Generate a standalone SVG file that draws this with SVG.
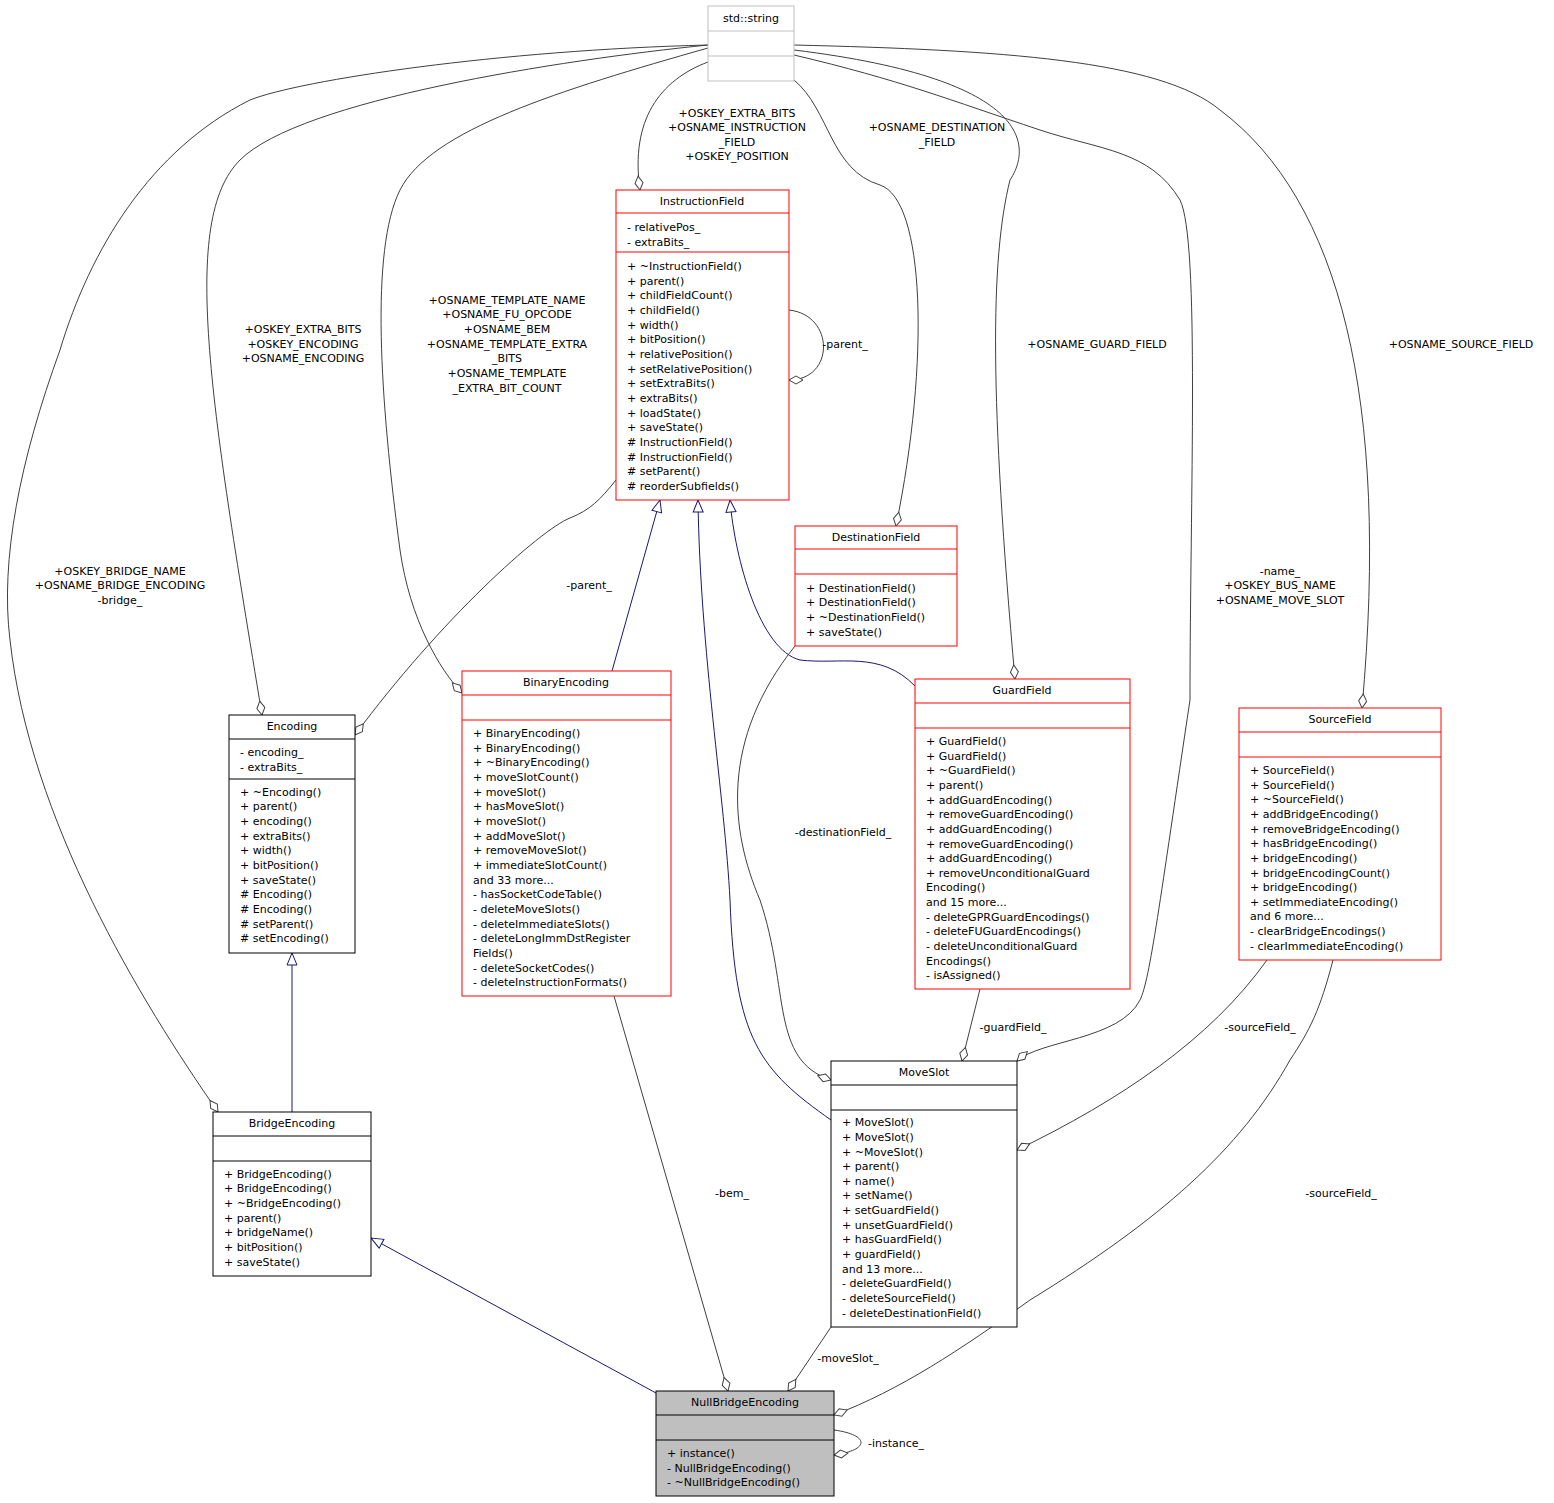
<svg xmlns="http://www.w3.org/2000/svg" width="1554" height="1503" viewBox="0 0 1554 1503">
<style>
text{font-family:"DejaVu Sans","Liberation Sans",sans-serif;font-size:11px;fill:#000}
.c{text-anchor:middle}
.box{fill:#fff;stroke:#f00;stroke-width:1}
.bk{fill:#fff;stroke:#000;stroke-width:1}
.gr{fill:#fff;stroke:#bfbfbf;stroke-width:1}
.e{fill:none;stroke:#404040;stroke-width:1;marker-end:url(#dia)}
.i{fill:none;stroke:#191970;stroke-width:1;marker-end:url(#tri)}
</style>
<defs>
<marker id="dia" viewBox="0 -5 16 10" refX="15" refY="0" markerWidth="16" markerHeight="10" markerUnits="userSpaceOnUse" orient="auto"><path d="M1,0 L8,-4 L15,0 L8,4 z" fill="#fff" stroke="#404040"/></marker>
<marker id="tri" viewBox="0 -6 14 12" refX="13" refY="0" markerWidth="14" markerHeight="12" markerUnits="userSpaceOnUse" orient="auto"><path d="M1,-5 L13,0 L1,5 z" fill="#fff" stroke="#191970"/></marker>
</defs>
<rect width="1554" height="1503" fill="#fff"/>
<g id="connectors">
<path class="e" d="M708,62 C660,80 630,120 640,190"/>
<path class="e" d="M794,80 C830,110 830,170 880,185 C925,200 930,360 896,526"/>
<path class="e" d="M794,50 C1040,80 1030,150 1010,180 C990,260 990,400 1015,679"/>
<path class="e" d="M794,45 C1000,50 1160,60 1220,110 C1340,200 1390,400 1362,708"/>
<path class="e" d="M794,55 C900,80 950,100 1040,130 C1100,150 1150,150 1180,200 C1200,240 1190,500 1190,700 C1160,900 1150,980 1140,1000 C1120,1040 1040,1040 1017,1061"/>
<path class="e" d="M708,45 C560,60 300,100 240,160 C180,220 210,400 262,715"/>
<path class="e" d="M708,48 C560,90 430,130 400,190 C370,250 380,400 400,550 C410,620 440,670 462,693"/>
<path class="e" d="M708,45 C500,50 300,80 250,100 C150,150 90,250 60,350 C20,460 0,560 10,640 C30,820 140,1000 218,1112"/>
<path class="e" d="M789,310 C835,315 835,380 789,380"/>
<path class="e" d="M616,480 C600,500 590,510 570,518 C540,530 440,620 355,735"/>
<path class="i" d="M612,671 L660,500"/>
<path class="i" d="M831,1120 C760,1070 735,1040 730,900 C725,800 700,650 698,500"/>
<path class="i" d="M915,686 C880,650 840,665 800,660 C760,650 735,560 730,500"/>
<path class="i" d="M292,1112 L292,953"/>
<path class="i" d="M656,1393 L371,1238"/>
<path class="e" d="M795,646 C720,740 730,830 760,900 C790,990 770,1060 831,1080"/>
<path class="e" d="M980,989 L962,1061"/>
<path class="e" d="M1267,960 C1210,1040 1120,1100 1017,1150"/>
<path class="e" d="M1333,960 C1320,1010 1310,1030 1290,1060 C1240,1150 1160,1220 1030,1300 C960,1350 900,1390 834,1415"/>
<path class="e" d="M614,996 L728,1391"/>
<path class="e" d="M831,1327 L788,1391"/>
<path class="e" d="M834,1430 C870,1435 870,1450 834,1455"/>
<text class="c" x="737" y="117">+OSKEY_EXTRA_BITS</text>
<text class="c" x="737" y="131">+OSNAME_INSTRUCTION</text>
<text class="c" x="737" y="146">_FIELD</text>
<text class="c" x="737" y="160">+OSKEY_POSITION</text>
<text class="c" x="937" y="131">+OSNAME_DESTINATION</text>
<text class="c" x="937" y="146">_FIELD</text>
<text class="c" x="1097" y="348">+OSNAME_GUARD_FIELD</text>
<text class="c" x="1461" y="348">+OSNAME_SOURCE_FIELD</text>
<text class="c" x="1280" y="575">-name_</text>
<text class="c" x="1280" y="589">+OSKEY_BUS_NAME</text>
<text class="c" x="1280" y="604">+OSNAME_MOVE_SLOT</text>
<text class="c" x="303" y="333">+OSKEY_EXTRA_BITS</text>
<text class="c" x="303" y="348">+OSKEY_ENCODING</text>
<text class="c" x="303" y="362">+OSNAME_ENCODING</text>
<text class="c" x="507" y="304">+OSNAME_TEMPLATE_NAME</text>
<text class="c" x="507" y="318">+OSNAME_FU_OPCODE</text>
<text class="c" x="507" y="333">+OSNAME_BEM</text>
<text class="c" x="507" y="348">+OSNAME_TEMPLATE_EXTRA</text>
<text class="c" x="507" y="362">_BITS</text>
<text class="c" x="507" y="377">+OSNAME_TEMPLATE</text>
<text class="c" x="507" y="392">_EXTRA_BIT_COUNT</text>
<text class="c" x="120" y="575">+OSKEY_BRIDGE_NAME</text>
<text class="c" x="120" y="589">+OSNAME_BRIDGE_ENCODING</text>
<text class="c" x="120" y="604">-bridge_</text>
<text class="c" x="845" y="348">-parent_</text>
<text class="c" x="589" y="589">-parent_</text>
<text class="c" x="843" y="836">-destinationField_</text>
<text class="c" x="1013" y="1031">-guardField_</text>
<text class="c" x="1260" y="1031">-sourceField_</text>
<text class="c" x="1341" y="1197">-sourceField_</text>
<text class="c" x="732" y="1197">-bem_</text>
<text class="c" x="848" y="1362">-moveSlot_</text>
<text class="c" x="896" y="1447">-instance_</text>
</g>
<g id="std_string">
<rect class="gr" x="708" y="6" width="86" height="75"/>
<line x1="708" y1="31" x2="794" y2="31" stroke="#bfbfbf"/>
<line x1="708" y1="56" x2="794" y2="56" stroke="#bfbfbf"/>
<text class="c" x="751" y="22">std::string</text>
</g>
<g id="InstructionField">
<rect class="box" x="616" y="190" width="173" height="310"/>
<line x1="616" y1="213" x2="789" y2="213" stroke="#f00"/>
<line x1="616" y1="252" x2="789" y2="252" stroke="#f00"/>
<text class="c" x="702" y="205">InstructionField</text>
<text x="627" y="231">- relativePos_</text>
<text x="627" y="246">- extraBits_</text>
<text x="627" y="270">+ ~InstructionField()</text>
<text x="627" y="285">+ parent()</text>
<text x="627" y="299">+ childFieldCount()</text>
<text x="627" y="314">+ childField()</text>
<text x="627" y="329">+ width()</text>
<text x="627" y="343">+ bitPosition()</text>
<text x="627" y="358">+ relativePosition()</text>
<text x="627" y="373">+ setRelativePosition()</text>
<text x="627" y="387">+ setExtraBits()</text>
<text x="627" y="402">+ extraBits()</text>
<text x="627" y="417">+ loadState()</text>
<text x="627" y="431">+ saveState()</text>
<text x="627" y="446"># InstructionField()</text>
<text x="627" y="461"># InstructionField()</text>
<text x="627" y="475"># setParent()</text>
<text x="627" y="490"># reorderSubfields()</text>
</g>
<g id="DestinationField">
<rect class="box" x="795" y="526" width="162" height="120"/>
<line x1="795" y1="549" x2="957" y2="549" stroke="#f00"/>
<line x1="795" y1="574" x2="957" y2="574" stroke="#f00"/>
<text class="c" x="876" y="541">DestinationField</text>
<text x="806" y="592">+ DestinationField()</text>
<text x="806" y="606">+ DestinationField()</text>
<text x="806" y="621">+ ~DestinationField()</text>
<text x="806" y="636">+ saveState()</text>
</g>
<g id="Encoding">
<rect class="bk" x="229" y="715" width="126" height="238"/>
<line x1="229" y1="739" x2="355" y2="739" stroke="#000"/>
<line x1="229" y1="779" x2="355" y2="779" stroke="#000"/>
<text class="c" x="292" y="730">Encoding</text>
<text x="240" y="756">- encoding_</text>
<text x="240" y="771">- extraBits_</text>
<text x="240" y="796">+ ~Encoding()</text>
<text x="240" y="810">+ parent()</text>
<text x="240" y="825">+ encoding()</text>
<text x="240" y="840">+ extraBits()</text>
<text x="240" y="854">+ width()</text>
<text x="240" y="869">+ bitPosition()</text>
<text x="240" y="884">+ saveState()</text>
<text x="240" y="898"># Encoding()</text>
<text x="240" y="913"># Encoding()</text>
<text x="240" y="928"># setParent()</text>
<text x="240" y="942"># setEncoding()</text>
</g>
<g id="BinaryEncoding">
<rect class="box" x="462" y="671" width="209" height="325"/>
<line x1="462" y1="695" x2="671" y2="695" stroke="#f00"/>
<line x1="462" y1="720" x2="671" y2="720" stroke="#f00"/>
<text class="c" x="566" y="686">BinaryEncoding</text>
<text x="473" y="737">+ BinaryEncoding()</text>
<text x="473" y="752">+ BinaryEncoding()</text>
<text x="473" y="766">+ ~BinaryEncoding()</text>
<text x="473" y="781">+ moveSlotCount()</text>
<text x="473" y="796">+ moveSlot()</text>
<text x="473" y="810">+ hasMoveSlot()</text>
<text x="473" y="825">+ moveSlot()</text>
<text x="473" y="840">+ addMoveSlot()</text>
<text x="473" y="854">+ removeMoveSlot()</text>
<text x="473" y="869">+ immediateSlotCount()</text>
<text x="473" y="884">and 33 more...</text>
<text x="473" y="898">- hasSocketCodeTable()</text>
<text x="473" y="913">- deleteMoveSlots()</text>
<text x="473" y="928">- deleteImmediateSlots()</text>
<text x="473" y="942">- deleteLongImmDstRegister</text>
<text x="473" y="957">Fields()</text>
<text x="473" y="972">- deleteSocketCodes()</text>
<text x="473" y="986">- deleteInstructionFormats()</text>
</g>
<g id="GuardField">
<rect class="box" x="915" y="679" width="215" height="310"/>
<line x1="915" y1="703" x2="1130" y2="703" stroke="#f00"/>
<line x1="915" y1="728" x2="1130" y2="728" stroke="#f00"/>
<text class="c" x="1022" y="694">GuardField</text>
<text x="926" y="745">+ GuardField()</text>
<text x="926" y="760">+ GuardField()</text>
<text x="926" y="774">+ ~GuardField()</text>
<text x="926" y="789">+ parent()</text>
<text x="926" y="804">+ addGuardEncoding()</text>
<text x="926" y="818">+ removeGuardEncoding()</text>
<text x="926" y="833">+ addGuardEncoding()</text>
<text x="926" y="848">+ removeGuardEncoding()</text>
<text x="926" y="862">+ addGuardEncoding()</text>
<text x="926" y="877">+ removeUnconditionalGuard</text>
<text x="926" y="891">Encoding()</text>
<text x="926" y="906">and 15 more...</text>
<text x="926" y="921">- deleteGPRGuardEncodings()</text>
<text x="926" y="935">- deleteFUGuardEncodings()</text>
<text x="926" y="950">- deleteUnconditionalGuard</text>
<text x="926" y="965">Encodings()</text>
<text x="926" y="979">- isAssigned()</text>
</g>
<g id="SourceField">
<rect class="box" x="1239" y="708" width="202" height="252"/>
<line x1="1239" y1="732" x2="1441" y2="732" stroke="#f00"/>
<line x1="1239" y1="757" x2="1441" y2="757" stroke="#f00"/>
<text class="c" x="1340" y="723">SourceField</text>
<text x="1250" y="774">+ SourceField()</text>
<text x="1250" y="789">+ SourceField()</text>
<text x="1250" y="803">+ ~SourceField()</text>
<text x="1250" y="818">+ addBridgeEncoding()</text>
<text x="1250" y="833">+ removeBridgeEncoding()</text>
<text x="1250" y="847">+ hasBridgeEncoding()</text>
<text x="1250" y="862">+ bridgeEncoding()</text>
<text x="1250" y="877">+ bridgeEncodingCount()</text>
<text x="1250" y="891">+ bridgeEncoding()</text>
<text x="1250" y="906">+ setImmediateEncoding()</text>
<text x="1250" y="920">and 6 more...</text>
<text x="1250" y="935">- clearBridgeEncodings()</text>
<text x="1250" y="950">- clearImmediateEncoding()</text>
</g>
<g id="MoveSlot">
<rect class="bk" x="831" y="1061" width="186" height="266"/>
<line x1="831" y1="1085" x2="1017" y2="1085" stroke="#000"/>
<line x1="831" y1="1110" x2="1017" y2="1110" stroke="#000"/>
<text class="c" x="924" y="1076">MoveSlot</text>
<text x="842" y="1126">+ MoveSlot()</text>
<text x="842" y="1141">+ MoveSlot()</text>
<text x="842" y="1156">+ ~MoveSlot()</text>
<text x="842" y="1170">+ parent()</text>
<text x="842" y="1185">+ name()</text>
<text x="842" y="1199">+ setName()</text>
<text x="842" y="1214">+ setGuardField()</text>
<text x="842" y="1229">+ unsetGuardField()</text>
<text x="842" y="1243">+ hasGuardField()</text>
<text x="842" y="1258">+ guardField()</text>
<text x="842" y="1273">and 13 more...</text>
<text x="842" y="1287">- deleteGuardField()</text>
<text x="842" y="1302">- deleteSourceField()</text>
<text x="842" y="1317">- deleteDestinationField()</text>
</g>
<g id="BridgeEncoding">
<rect class="bk" x="213" y="1112" width="158" height="164"/>
<line x1="213" y1="1136" x2="371" y2="1136" stroke="#000"/>
<line x1="213" y1="1161" x2="371" y2="1161" stroke="#000"/>
<text class="c" x="292" y="1127">BridgeEncoding</text>
<text x="224" y="1178">+ BridgeEncoding()</text>
<text x="224" y="1192">+ BridgeEncoding()</text>
<text x="224" y="1207">+ ~BridgeEncoding()</text>
<text x="224" y="1222">+ parent()</text>
<text x="224" y="1236">+ bridgeName()</text>
<text x="224" y="1251">+ bitPosition()</text>
<text x="224" y="1266">+ saveState()</text>
</g>
<g id="NullBridgeEncoding">
<rect x="656" y="1391" width="178" height="105" fill="#bfbfbf" stroke="#000"/>
<line x1="656" y1="1415" x2="834" y2="1415" stroke="#000"/>
<line x1="656" y1="1440" x2="834" y2="1440" stroke="#000"/>
<text class="c" x="745" y="1406">NullBridgeEncoding</text>
<text x="667" y="1457">+ instance()</text>
<text x="667" y="1472">- NullBridgeEncoding()</text>
<text x="667" y="1486">- ~NullBridgeEncoding()</text>
</g>
</svg>
